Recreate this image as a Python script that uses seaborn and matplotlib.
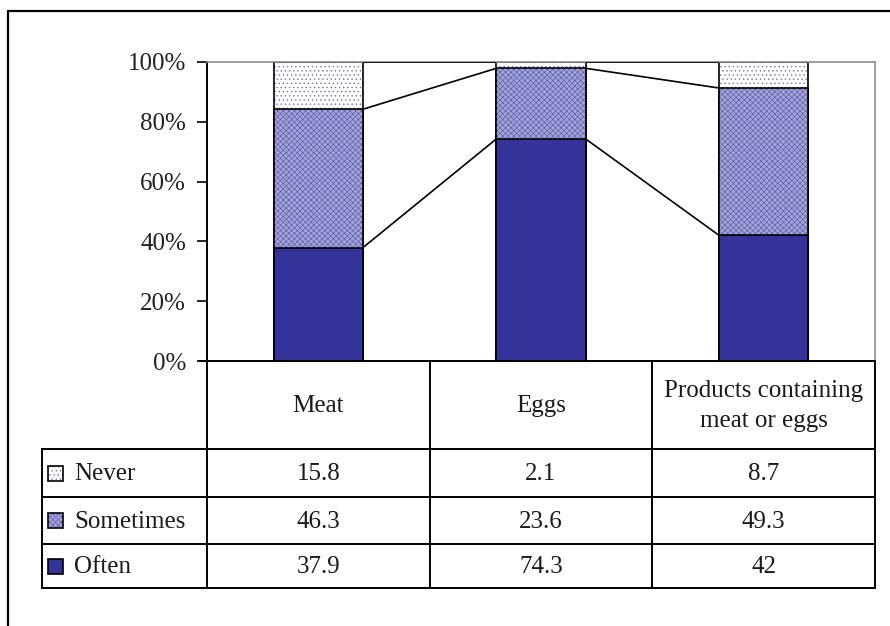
import matplotlib
matplotlib.use("Agg")
import matplotlib.pyplot as plt
from matplotlib.patches import Rectangle
import numpy as np
import pandas as pd
import seaborn as sns

# ---- data ----
categories = ["Meat", "Eggs", "Products containing\nmeat or eggs"]
series_names = ["Never", "Sometimes", "Often"]
never = [15.8, 2.1, 8.7]
sometimes = [46.3, 23.6, 49.3]
often = [37.9, 74.3, 42]
value_labels = {
    "Never": ["15.8", "2.1", "8.7"],
    "Sometimes": ["46.3", "23.6", "49.3"],
    "Often": ["37.9", "74.3", "42"],
}
yticks = [0, 20, 40, 60, 80, 100]
ytick_labels = ["0%", "20%", "40%", "60%", "80%", "100%"]

sns.set_theme(style="white")
plt.rcParams["font.family"] = ["Liberation Serif", "DejaVu Serif"]
plt.rcParams["hatch.linewidth"] = 0.45

FS = 18
W, H = 890, 626
fig = plt.figure(figsize=(W / 100, H / 100), dpi=100)
fig.patch.set_facecolor("white")

def fx(px):
    return px / W

def fy(py):
    return 1 - py / H

# outer frame (left and top edges visible)
fig.add_artist(plt.Line2D([fx(8), fx(8)], [fy(11), fy(626)], color="black", lw=1.6))
fig.add_artist(plt.Line2D([fx(8), fx(890)], [fy(11), fy(11)], color="black", lw=1.6))

# ---- plot area ----
PL, PR, PT, PB = 207, 875, 62, 361
ax = fig.add_axes([fx(PL), fy(PB), fx(PR - PL), (PB - PT) / H])

df = pd.DataFrame({
    "cat": categories,
    "Never": never,
    "Sometimes": sometimes,
    "Often": often,
})
df["c_often"] = df["Often"]
df["c_some"] = df["Often"] + df["Sometimes"]
df["c_never"] = df["c_some"] + df["Never"]

blue = "#333399"
styles = {
    "Never": dict(color="white", hatch="....", edgecolor="#6a6abb"),
    "Sometimes": dict(color="#a4a4d6", hatch="xxxxxx", edgecolor="#5a5ab0"),
    "Often": dict(color=blue, hatch=None, edgecolor=blue),
}
bar_w = 0.4

for name, col in [("Never", "c_never"), ("Sometimes", "c_some"), ("Often", "c_often")]:
    st = styles[name]
    sns.barplot(data=df, x="cat", y=col, ax=ax, color=st["color"], width=bar_w,
                saturation=1, edgecolor=st["edgecolor"], linewidth=0,
                hatch=st["hatch"], errorbar=None)
    sns.barplot(data=df, x="cat", y=col, ax=ax, fill=False, width=bar_w,
                edgecolor="black", linewidth=1.2, errorbar=None)

# series lines connecting segment tops between neighbouring bars
for col in ["c_often", "c_some", "c_never"]:
    vals = df[col].to_numpy()
    for i in range(len(vals) - 1):
        ax.plot([i + bar_w / 2, i + 1 - bar_w / 2], [vals[i], vals[i + 1]],
                color="black", lw=1.2, zorder=5, solid_capstyle="butt")

ax.set_xlim(-0.5, len(categories) - 0.5)
ax.set_ylim(0, 100)
ax.set_yticks(yticks)
ax.set_yticklabels(ytick_labels, fontsize=FS)
ax.set_xticks([])
ax.set_xlabel("")
ax.set_ylabel("")
ax.tick_params(axis="y", direction="out", length=7, width=1.2, pad=8,
               left=True, colors="black", labelcolor="#222222")
for s in ["top", "right"]:
    ax.spines[s].set_color("#8c8c8c")
    ax.spines[s].set_linewidth(1.2)
for s in ["left", "bottom"]:
    ax.spines[s].set_color("black")
    ax.spines[s].set_linewidth(1.4)
ax.set_facecolor("white")

# ---- data table under the plot ----
TL = 42
TB = 588
row_edges = [361, 449, 497, 544, 588]
tax = fig.add_axes([fx(TL), fy(TB), fx(PR - TL), (TB - PB) / H])
tax.set_xlim(TL, PR)
tax.set_ylim(TB, PB)
tax.axis("off")

col_w = (PR - PL) / len(categories)
col_edges = [PL + i * col_w for i in range(len(categories) + 1)]
lk = dict(color="black", lw=1.4, clip_on=False, solid_capstyle="projecting")

for y in row_edges[1:]:
    tax.plot([TL, PR], [y, y], **lk)
tax.plot([TL, TL], [row_edges[1], TB], **lk)
for x in col_edges:
    tax.plot([x, x], [PB, TB], **lk)
tax.plot([PL - 7, PL], [PB, PB], **lk)

# header cells
for i, c in enumerate(categories):
    tax.text((col_edges[i] + col_edges[i + 1]) / 2, (row_edges[0] + row_edges[1]) / 2 + 1,
             c, ha="center", va="center", fontsize=FS, color="#1a1a1a",
             linespacing=1.45)

# rows with legend keys
for r, name in enumerate(series_names):
    yc = (row_edges[r + 1] + row_edges[r + 2]) / 2
    st = styles[name]
    sw = 15
    tax.add_patch(Rectangle((48, yc - sw / 2), sw, sw, facecolor=st["color"],
                            hatch=st["hatch"], edgecolor=st["edgecolor"], lw=0))
    tax.add_patch(Rectangle((48, yc - sw / 2), sw, sw, fill=False,
                            edgecolor="black", lw=1.2))
    tax.text(74, yc + 1, name, ha="left", va="center", fontsize=FS, color="#1a1a1a")
    for i in range(len(categories)):
        tax.text((col_edges[i] + col_edges[i + 1]) / 2, yc + 1, value_labels[name][i],
                 ha="center", va="center", fontsize=FS, color="#1a1a1a")

fig.savefig("out.png", dpi=100, facecolor="white")
